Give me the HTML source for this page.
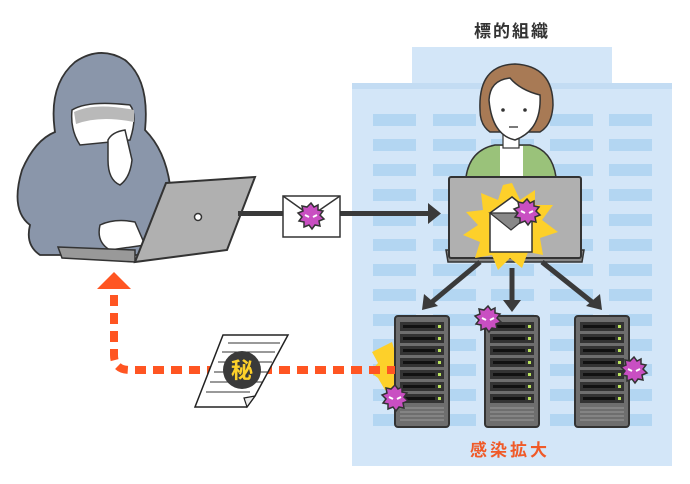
<!DOCTYPE html>
<html><head><meta charset="utf-8"><style>
html,body{margin:0;padding:0;background:#fff;}
svg{display:block;}
</style></head><body>
<svg width="690" height="484" viewBox="0 0 690 484" xmlns="http://www.w3.org/2000/svg">
<defs>
<g id="virus">
<polygon points="0,-13 3,-9 7,-11 7,-6 12,-5 9,-1 13,3 8,5 9,10 4,9 1,13 -2,9 -7,11 -7,6 -12,5 -9,1 -13,-3 -8,-5 -9,-10 -4,-9" fill="#c94fc2" stroke="#333" stroke-width="1.5"/>
<path d="M-6,-1 L-2,1 M6,-1 L2,1" stroke="#fff" stroke-width="2"/>
</g>
<g id="server">
<rect x="0" y="0" width="54" height="111" rx="3" fill="#6e6e6e" stroke="#333" stroke-width="2"/>
<g fill="#333">
<rect x="5" y="6" width="44" height="9"/><rect x="5" y="18" width="44" height="9"/><rect x="5" y="30" width="44" height="9"/><rect x="5" y="42" width="44" height="9"/><rect x="5" y="54" width="44" height="9"/><rect x="5" y="66" width="44" height="9"/><rect x="5" y="78" width="44" height="9"/>
</g>
<g fill="#111"><rect x="8" y="9" width="32" height="3"/><rect x="8" y="21" width="32" height="3"/><rect x="8" y="33" width="32" height="3"/><rect x="8" y="45" width="32" height="3"/><rect x="8" y="57" width="32" height="3"/><rect x="8" y="69" width="32" height="3"/><rect x="8" y="81" width="32" height="3"/></g>
<g fill="#b6e05a"><rect x="43" y="9" width="3" height="3"/><rect x="43" y="21" width="3" height="3"/><rect x="43" y="33" width="3" height="3"/><rect x="43" y="45" width="3" height="3"/><rect x="43" y="57" width="3" height="3"/><rect x="43" y="69" width="3" height="3"/><rect x="43" y="81" width="3" height="3"/></g>
<g stroke="#999" stroke-width="1"><path d="M5,92H49M5,96H49M5,100H49M5,104H49"/></g>
</g>
</defs>

<!-- building -->
<rect x="412" y="47" width="200" height="40" fill="#d3e6f8"/>
<rect x="352" y="83" width="320" height="383" fill="#d3e6f8"/>
<rect x="352" y="83" width="320" height="6" fill="#c3dcf3"/>
<g fill="#b3d6f2" id="wins">
<script type="text/javascript"></script>
</g>
<g fill="#b3d6f2">
<!-- rows -->
<rect x="373" y="114" width="43" height="12"/><rect x="433" y="114" width="43" height="12"/><rect x="491" y="114" width="43" height="12"/><rect x="550" y="114" width="43" height="12"/><rect x="609" y="114" width="43" height="12"/>
<rect x="373" y="139" width="43" height="12"/><rect x="433" y="139" width="43" height="12"/><rect x="491" y="139" width="43" height="12"/><rect x="550" y="139" width="43" height="12"/><rect x="609" y="139" width="43" height="12"/>
<rect x="373" y="164" width="43" height="12"/><rect x="433" y="164" width="43" height="12"/><rect x="491" y="164" width="43" height="12"/><rect x="550" y="164" width="43" height="12"/><rect x="609" y="164" width="43" height="12"/>
<rect x="373" y="189" width="43" height="12"/><rect x="433" y="189" width="43" height="12"/><rect x="491" y="189" width="43" height="12"/><rect x="550" y="189" width="43" height="12"/><rect x="609" y="189" width="43" height="12"/>
<rect x="373" y="214" width="43" height="12"/><rect x="433" y="214" width="43" height="12"/><rect x="491" y="214" width="43" height="12"/><rect x="550" y="214" width="43" height="12"/><rect x="609" y="214" width="43" height="12"/>
<rect x="373" y="239" width="43" height="12"/><rect x="433" y="239" width="43" height="12"/><rect x="491" y="239" width="43" height="12"/><rect x="550" y="239" width="43" height="12"/><rect x="609" y="239" width="43" height="12"/>
<rect x="373" y="264" width="43" height="12"/><rect x="433" y="264" width="43" height="12"/><rect x="491" y="264" width="43" height="12"/><rect x="550" y="264" width="43" height="12"/><rect x="609" y="264" width="43" height="12"/>
<rect x="373" y="289" width="43" height="12"/><rect x="433" y="289" width="43" height="12"/><rect x="491" y="289" width="43" height="12"/><rect x="550" y="289" width="43" height="12"/><rect x="609" y="289" width="43" height="12"/>
<rect x="373" y="314" width="43" height="12"/><rect x="433" y="314" width="43" height="12"/><rect x="491" y="314" width="43" height="12"/><rect x="550" y="314" width="43" height="12"/><rect x="609" y="314" width="43" height="12"/>
<rect x="373" y="339" width="43" height="12"/><rect x="433" y="339" width="43" height="12"/><rect x="491" y="339" width="43" height="12"/><rect x="550" y="339" width="43" height="12"/><rect x="609" y="339" width="43" height="12"/>
<rect x="373" y="364" width="43" height="12"/><rect x="433" y="364" width="43" height="12"/><rect x="491" y="364" width="43" height="12"/><rect x="550" y="364" width="43" height="12"/><rect x="609" y="364" width="43" height="12"/>
<rect x="373" y="389" width="43" height="12"/><rect x="433" y="389" width="43" height="12"/><rect x="491" y="389" width="43" height="12"/><rect x="550" y="389" width="43" height="12"/><rect x="609" y="389" width="43" height="12"/>
<rect x="373" y="414" width="43" height="12"/><rect x="433" y="414" width="43" height="12"/><rect x="491" y="414" width="43" height="12"/><rect x="550" y="414" width="43" height="12"/><rect x="609" y="414" width="43" height="12"/>
</g>

<text x="512" y="37" font-family="Liberation Sans, Noto Sans CJK JP, sans-serif" font-size="17" font-weight="bold" fill="#333" text-anchor="middle" letter-spacing="2">標的組織</text>

<!-- woman -->
<path d="M466,177 Q470,150 495,145 L530,145 Q552,150 556,177 Z" fill="#9ac27a" stroke="#333" stroke-width="1.5"/>
<path d="M500,146 L500,177 L523,177 L523,146 Z" fill="#fff"/>
<rect x="503" y="130" width="16" height="18" fill="#fff" stroke="#333" stroke-width="1.2"/>
<path d="M480,110 Q478,65 515,64 Q553,66 553,105 Q552,125 540,132 L490,132 Q480,125 480,110Z" fill="#a87a55" stroke="#333" stroke-width="1.5"/>
<path d="M489,100 Q490,80 510,78 Q520,90 540,95 Q542,130 515,140 Q492,135 489,100Z" fill="#fff" stroke="#333" stroke-width="1.5"/>
<circle cx="503" cy="110" r="1.8" fill="#333"/><circle cx="525" cy="110" r="1.8" fill="#333"/>
<path d="M509,127 L518,127" stroke="#333" stroke-width="1.3"/>

<!-- office laptop -->
<path d="M446,250 L584,250 L582,262 L448,262Z" fill="#888" stroke="#333" stroke-width="1.5"/>
<rect x="449" y="177" width="132" height="81" rx="2" fill="#b0b0b0" stroke="#333" stroke-width="2"/>
<polygon points="512,183 520,200 535,190 535,205 553,205 542,220 558,232 540,238 543,255 528,252 522,268 510,258 498,270 492,255 475,258 480,242 463,235 478,225 466,212 483,210 481,193 498,200 503,185" fill="#fdd02a"/>
<polygon points="490,213 512,197 532,213 532,252 490,252" fill="#fff" stroke="#333" stroke-width="1.5"/>
<polygon points="490,213 511,230 532,213" fill="#888" stroke="#333" stroke-width="1.2"/>
<use href="#virus" transform="translate(527,212)"/>

<!-- hacker -->
<path d="M30,225 Q10,210 22,170 Q35,140 55,132 Q48,85 75,62 Q100,45 125,60 Q150,80 145,130 Q165,150 170,185 L180,255 L40,255 Q25,245 30,225Z" fill="#8a96aa" stroke="#333" stroke-width="1.8"/>
<path d="M72,110 Q88,100 130,105 Q138,115 130,140 L80,145 Q70,130 72,110Z" fill="#fff" stroke="#333" stroke-width="1.5"/>
<path d="M74,112 Q95,102 134,110 L134,122 Q100,115 76,124Z" fill="#b9b9b9"/>
<path d="M108,140 Q112,132 125,130 L132,160 Q130,178 120,185 Q108,180 108,160Z" fill="#fff" stroke="#333" stroke-width="1.5"/>
<path d="M100,225 Q115,218 135,222 L145,245 L110,250 Q96,242 100,225Z" fill="#fff" stroke="#333" stroke-width="1.5"/>
<path d="M58,247 L135,250 L135,262 L62,258Z" fill="#999" stroke="#333" stroke-width="1.5"/>
<polygon points="166,183 255,177 227,250 135,262" fill="#b0b0b0" stroke="#333" stroke-width="2"/>
<circle cx="198" cy="217" r="3.5" fill="#fff" stroke="#333" stroke-width="1.5"/>

<!-- email arrow -->
<rect x="238" y="211" width="190" height="5" fill="#3a3a3a"/>
<polygon points="428,203 441,213.5 428,224" fill="#3a3a3a"/>
<rect x="283" y="196" width="57" height="41" fill="#fff" stroke="#333" stroke-width="1.5"/>
<path d="M283,196 L311,216 L340,196" fill="none" stroke="#333" stroke-width="1.5"/>
<use href="#virus" transform="translate(311,216)"/>

<!-- distribution arrows -->
<g stroke="#3a3a3a" stroke-width="5" fill="#3a3a3a">
<line x1="480" y1="262" x2="432" y2="302"/>
<line x1="512" y1="268" x2="512" y2="300"/>
<line x1="542" y1="262" x2="592" y2="302"/>
</g>
<polygon points="422,310 424,294 438,306" fill="#3a3a3a"/>
<polygon points="503,300 521,300 512,312" fill="#3a3a3a"/>
<polygon points="602,310 586,306 600,294" fill="#3a3a3a"/>

<!-- servers -->
<polygon points="392,342 396,355 396,395 385,390 378,378 370,372 378,363 372,352" fill="#fdd02a"/>
<use href="#server" transform="translate(395,316)"/>
<use href="#server" transform="translate(485,316)"/>
<use href="#server" transform="translate(575,316)"/>
<use href="#virus" transform="translate(395,398)"/>
<use href="#virus" transform="translate(488,319)"/>
<use href="#virus" transform="translate(634,370)"/>

<text x="510" y="456" font-family="Liberation Sans, Noto Sans CJK JP, sans-serif" font-size="17" font-weight="bold" fill="#f05a28" text-anchor="middle" letter-spacing="3">感染拡大</text>

<!-- exfil path -->
<path d="M114,295 L114,355 Q114,370 130,370 L395,370" fill="none" stroke="#ff5522" stroke-width="8" stroke-dasharray="11,7"/>
<polygon points="97,289 114,272 131,289" fill="#ff5522"/>
<polygon points="223,335 288,335 255,396 247,407 195,407" fill="#fff" stroke="#222" stroke-width="1.5"/>
<path d="M255,396 L247,407 L244,398Z" fill="#eee" stroke="#222" stroke-width="1.2"/>
<g stroke="#333" stroke-width="1"><path d="M228,343H280M222,352H275M218,362H272M214,372H268M210,382H262M206,392H250"/></g>
<circle cx="242" cy="370" r="19" fill="#3a3a3a"/>
<text x="242" y="378" font-family="Noto Sans CJK JP, sans-serif" font-size="22" font-weight="bold" fill="#fdd02a" text-anchor="middle">秘</text>
</svg>
</body></html>
